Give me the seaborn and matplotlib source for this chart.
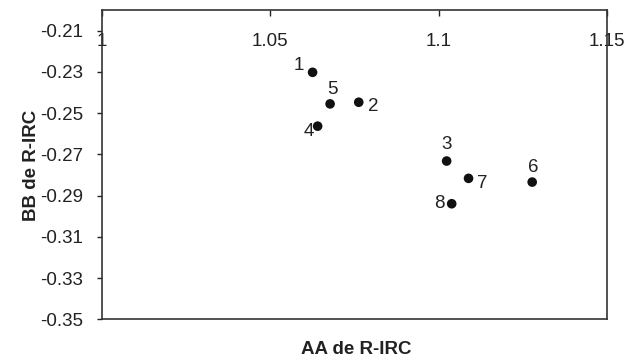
import matplotlib
matplotlib.use("Agg")
import matplotlib.pyplot as plt
import seaborn as sns
import pandas as pd

labels = ["1", "2", "3", "4", "5", "6", "7", "8"]
aa_values = [1.0626, 1.0763, 1.1024, 1.0641, 1.0678, 1.1278, 1.1089, 1.1039]
bb_values = [-0.2302, -0.2447, -0.2732, -0.2563, -0.2455, -0.2834, -0.2816, -0.2939]
x_ticks = [1.0, 1.05, 1.1, 1.15]
x_tick_labels = ["1", "1.05", "1.1", "1.15"]
y_ticks = [-0.35, -0.33, -0.31, -0.29, -0.27, -0.25, -0.23, -0.21]
y_tick_labels = ["-0.35", "-0.33", "-0.31", "-0.29", "-0.27", "-0.25", "-0.23", "-0.21"]
# label offsets in pixels (dx right, dy down)
label_offsets_px = {"1": (-14, -7), "2": (15, 4), "3": (0, -17), "4": (-9, 5),
                    "5": (2, -14), "6": (1, -15), "7": (14, 5), "8": (-12, 0)}

sns.set_style("white")
plt.rcParams['font.family'] = ['Liberation Sans', 'DejaVu Sans']

FS = 13.5
df = pd.DataFrame({"AA": aa_values, "BB": bb_values, "lab": labels})

fig = plt.figure(figsize=(6.26, 3.64), dpi=100)
ax = fig.add_axes([0.1625, 0.1223, 0.9696 - 0.1625, 0.9725 - 0.1223])

sns.scatterplot(data=df, x="AA", y="BB", ax=ax, color="#111111", s=48,
                edgecolor="none", legend=False, zorder=3)

for lab, x, y in zip(labels, aa_values, bb_values):
    dx, dy = label_offsets_px[lab]
    ax.annotate(lab, (x, y), xytext=(dx * 0.72, -dy * 0.72), textcoords="offset points",
                ha="center", va="center", fontsize=FS, color="#222222")

ax.set_xlim(1.0, 1.15)
ax.set_ylim(-0.35, -0.20)
ax.set_xticks(x_ticks)
ax.set_xticklabels(x_tick_labels)
ax.set_yticks(y_ticks)
ax.set_yticklabels(y_tick_labels)

ax.xaxis.tick_top()
ax.tick_params(axis="x", direction="in", length=4, width=1, pad=-29, labelsize=FS,
               colors="#222222", top=True, bottom=False, labeltop=True, labelbottom=False)
ax.tick_params(axis="y", direction="out", length=3.5, width=1, pad=10, labelsize=FS,
               colors="#222222", left=True, right=False)

for sp in ax.spines.values():
    sp.set_visible(True)
    sp.set_color("#333333")
    sp.set_linewidth(1.2)

ax.set_xlabel("")
ax.set_ylabel("")
fig.text(32 / 626, 1 - 165 / 364, "BB de R-IRC", ha="center", va="center", rotation=90,
         fontsize=FS, fontweight="bold", color="#222222")
fig.text(356 / 626, 1 - 350 / 364, "AA de R-IRC", ha="center", va="center",
         fontsize=FS, fontweight="bold", color="#222222")

fig.savefig("out.png", dpi=100)
